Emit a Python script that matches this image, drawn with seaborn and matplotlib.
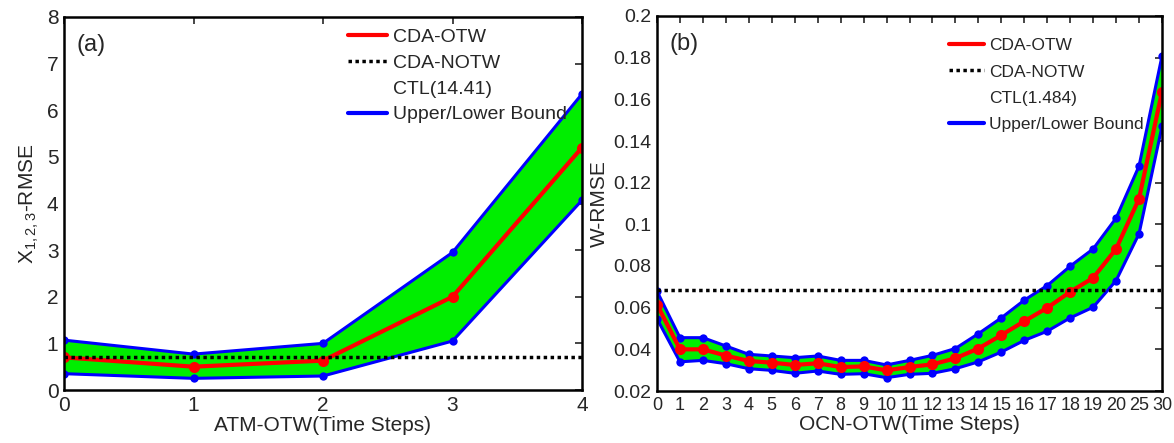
import matplotlib
matplotlib.use('Agg')
import matplotlib.pyplot as plt
import seaborn as sns
import pandas as pd
from matplotlib.lines import Line2D

# panel (a) data
atm_steps = [0, 1, 2, 3, 4]
atm_mean = [0.70, 0.50, 0.63, 2.00, 5.20]
atm_upper = [1.07, 0.77, 1.00, 2.95, 6.35]
atm_lower = [0.35, 0.25, 0.30, 1.05, 4.07]
atm_notw = 0.70

# panel (b) data
ocn_labels = ['0', '1', '2', '3', '4', '5', '6', '7', '8', '9', '10', '11',
              '12', '13', '14', '15', '16', '17', '18', '19', '20', '25', '30']
ocn_mean = [0.0615, 0.0400, 0.0400, 0.0370, 0.0344, 0.0336, 0.0325, 0.0333,
            0.0315, 0.0318, 0.0299, 0.0315, 0.0328, 0.0357, 0.0404, 0.0468,
            0.0535, 0.0599, 0.0676, 0.0743, 0.0882, 0.1123, 0.1637]
ocn_upper = [0.0679, 0.0456, 0.0456, 0.0416, 0.0376, 0.0368, 0.0360, 0.0368,
             0.0347, 0.0347, 0.0325, 0.0347, 0.0371, 0.0404, 0.0475, 0.0551,
             0.0636, 0.0706, 0.0799, 0.0882, 0.1030, 0.1280, 0.1808]
ocn_lower = [0.0547, 0.0340, 0.0347, 0.0331, 0.0307, 0.0299, 0.0285, 0.0296,
             0.0280, 0.0283, 0.0264, 0.0280, 0.0285, 0.0307, 0.0340, 0.0387,
             0.0443, 0.0487, 0.0551, 0.0602, 0.0730, 0.0955, 0.1470]
ocn_notw = 0.0687

sns.set_style('white')
plt.rcParams['font.family'] = ['Liberation Sans', 'DejaVu Sans']
plt.rcParams['mathtext.fontset'] = 'custom'
plt.rcParams['mathtext.rm'] = 'Liberation Sans'
plt.rcParams['mathtext.it'] = 'Liberation Sans'
plt.rcParams['font.size'] = 14

fig = plt.figure(figsize=(11.74, 4.43), dpi=100)
ax1 = fig.add_axes([64/1174, 1-390/443, (582-64)/1174, (390-17)/443])
ax2 = fig.add_axes([657/1174, 1-391/443, (1162-657)/1174, (391-16)/443])


def draw(ax, x, mean, upper, lower, notw, tag, ctl, leg_xy, leg_fs, leg_sp):
    df = pd.DataFrame({'x': x, 'mean': mean, 'upper': upper, 'lower': lower})
    ax.fill_between(df['x'], df['lower'], df['upper'], color='#00ee00', lw=0)
    sns.lineplot(data=df, x='x', y='upper', ax=ax, color='blue', lw=2.2,
                 marker='o', markersize=6, markeredgewidth=0)
    sns.lineplot(data=df, x='x', y='lower', ax=ax, color='blue', lw=2.2,
                 marker='o', markersize=6, markeredgewidth=0)
    sns.lineplot(data=df, x='x', y='mean', ax=ax, color='red', lw=3,
                 marker='o', markersize=8, markeredgewidth=0)
    ax.axhline(notw, color='black', ls=(0, (1, 1)), lw=2.5)
    ax.text(0.025, 0.955, tag, transform=ax.transAxes, fontsize=17, va='top')
    handles = [Line2D([], [], color='red', lw=3),
               Line2D([], [], color='black', ls=(0, (1, 1)), lw=2.5),
               Line2D([], [], color='none'),
               Line2D([], [], color='blue', lw=3)]
    ax.legend(handles, ['CDA-OTW', 'CDA-NOTW', ctl, 'Upper/Lower Bound'],
              loc='upper left', bbox_to_anchor=leg_xy, frameon=False,
              handlelength=2.0, handletextpad=0.3, labelspacing=leg_sp,
              fontsize=leg_fs, borderaxespad=0.0)
    ax.tick_params(direction='in', top=True, right=True, length=5,
                   width=1.2, labelsize=15, pad=4)
    for s in ax.spines.values():
        s.set_linewidth(1.8)
        s.set_color('black')


draw(ax1, atm_steps, atm_mean, atm_upper, atm_lower, atm_notw, '(a)',
     'CTL(14.41)', (0.533, 0.99), 14, 0.42)
ax1.set_xlim(0, 4)
ax1.set_ylim(0, 8)
ax1.set_xticks(atm_steps)
ax1.set_yticks([0, 1, 2, 3, 4, 5, 6, 7, 8])
ax1.set_xlabel('ATM-OTW(Time Steps)', fontsize=15, labelpad=1)
ax1.set_ylabel(r'X$\mathregular{_{1,2,3}}$-RMSE', fontsize=15, labelpad=4)

pos = list(range(len(ocn_labels)))
draw(ax2, pos, ocn_mean, ocn_upper, ocn_lower, ocn_notw, '(b)',
     'CTL(1.484)', (0.565, 0.96), 12.5, 0.65)
ax2.set_xlim(0, len(ocn_labels) - 1)
ax2.set_ylim(0.02, 0.2)
ax2.set_xticks(pos)
ax2.set_xticklabels(ocn_labels)
ax2.tick_params(axis='x', labelsize=13)
ax2.tick_params(axis='y', labelsize=14)
ax2.set_yticks([0.02, 0.04, 0.06, 0.08, 0.1, 0.12, 0.14, 0.16, 0.18, 0.2])
ax2.set_yticklabels(['0.02', '0.04', '0.06', '0.08', '0.1', '0.12', '0.14',
                     '0.16', '0.18', '0.2'])
ax2.set_xlabel('OCN-OTW(Time Steps)', fontsize=15, labelpad=1)
ax2.set_ylabel('W-RMSE', fontsize=15, labelpad=3)

fig.savefig('out.png', dpi=100)
